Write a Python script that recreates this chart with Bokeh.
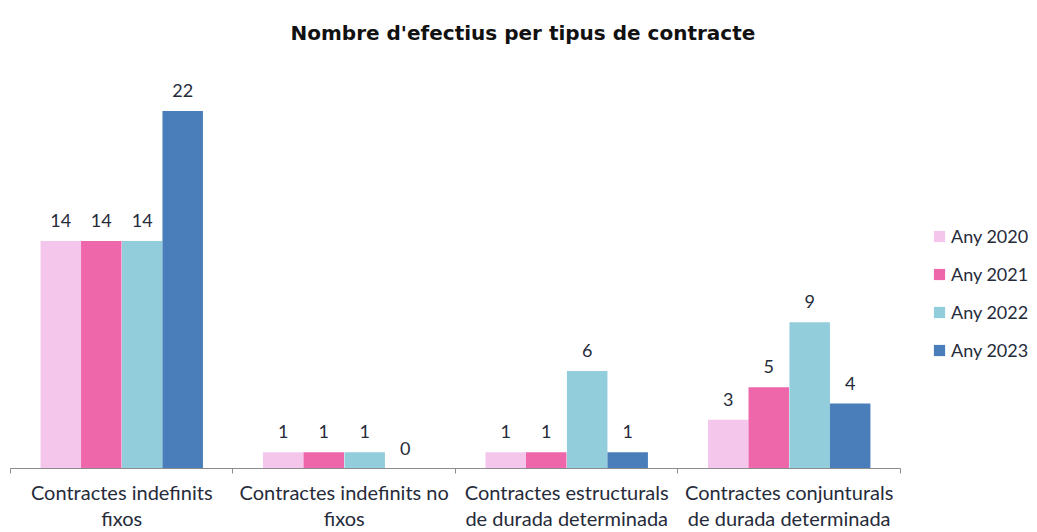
from bokeh.plotting import figure
from bokeh.models import (Range1d, FixedTicker, ColumnDataSource, LabelSet, Legend, LegendItem, Title)
from bokeh.transform import dodge
from bokeh.core.properties import value
from bokeh.embed import file_html
from bokeh.resources import INLINE

categories = ["Contractes indefinits\nfixos", "Contractes indefinits no\nfixos",
              "Contractes estructurals\nde durada determinada", "Contractes conjunturals\nde durada determinada"]
years = ["Any 2020", "Any 2021", "Any 2022", "Any 2023"]
v2020 = [14, 1, 1, 3]
v2021 = [14, 1, 1, 5]
v2022 = [14, 1, 6, 9]
v2023 = [22, 0, 1, 4]
colors = ["#F5C6EC", "#EF67AB", "#92CDDC", "#4A7EBB"]

series = [v2020, v2021, v2022, v2023]
n = len(categories)
xpos = [i + 0.5 for i in range(n)]
data = {"x": xpos}
for y, s in zip(years, series):
    data[y] = s
    data[y + "_t"] = [str(v) for v in s]
src = ColumnDataSource(data)

FONT = "Lato"
TXT = "#262b3a"

p = figure(width=1035, height=532, output_backend="svg", toolbar_location=None,
           x_range=Range1d(0, n + 0.598), y_range=Range1d(0, 24),
           min_border_left=10, min_border_right=2, min_border_top=78, min_border_bottom=64)
p.title = None
spacer = Title(text=" ", text_font_size="16px", standoff=0)
p.add_layout(spacer, "above")
t = Title(text="Nombre d'efectius per tipus de contracte", align="left",
          text_font="DejaVu Sans", text_font_size="20px", text_font_style="bold",
          text_color="#111111", offset=280, standoff=30)
p.add_layout(t, "above")

p.outline_line_color = None
p.xgrid.grid_line_color = None
p.ygrid.grid_line_color = None
p.yaxis.visible = False

offsets = [-0.274, -0.092, 0.092, 0.274]
w = 0.182
items = []
for y, c, o in zip(years, colors, offsets):
    r = p.vbar(x=dodge("x", o, range=p.x_range), top=y, width=w, bottom=0, source=src,
               fill_color=c, line_color=None)
    items.append(LegendItem(label=y, renderers=[r]))
    lab = LabelSet(x=dodge("x", o, range=p.x_range), y=y, text=y + "_t", source=src,
                   text_align="center", text_baseline="alphabetic", y_offset=14,
                   text_font=value(FONT), text_font_size="18px", text_color=TXT)
    p.add_layout(lab)

ax = p.xaxis[0]
ax.bounds = (0, n)
ax.ticker = FixedTicker(ticks=xpos, minor_ticks=list(range(n + 1)))
ax.major_label_overrides = {x: c for x, c in zip(xpos, categories)}
ax.major_tick_line_color = None
ax.major_tick_in = 0
ax.major_tick_out = 0
ax.minor_tick_line_color = "#8c8c8c"
ax.minor_tick_in = 0
ax.minor_tick_out = 5
ax.axis_line_color = "#8c8c8c"
ax.major_label_text_font = FONT
ax.major_label_text_font_size = "20px"
ax.major_label_text_line_height = 1.1
ax.major_label_text_color = TXT
ax.major_label_standoff = 6

legend = Legend(items=items, location=(922, 107), padding=0, margin=0,
                glyph_width=14, glyph_height=14, label_height=22, spacing=16,
                label_standoff=5, border_line_color=None, background_fill_alpha=0,
                label_text_font=FONT, label_text_font_size="18px", label_text_color=TXT)
p.add_layout(legend)

open("out.html", "w").write(file_html(p, INLINE))
